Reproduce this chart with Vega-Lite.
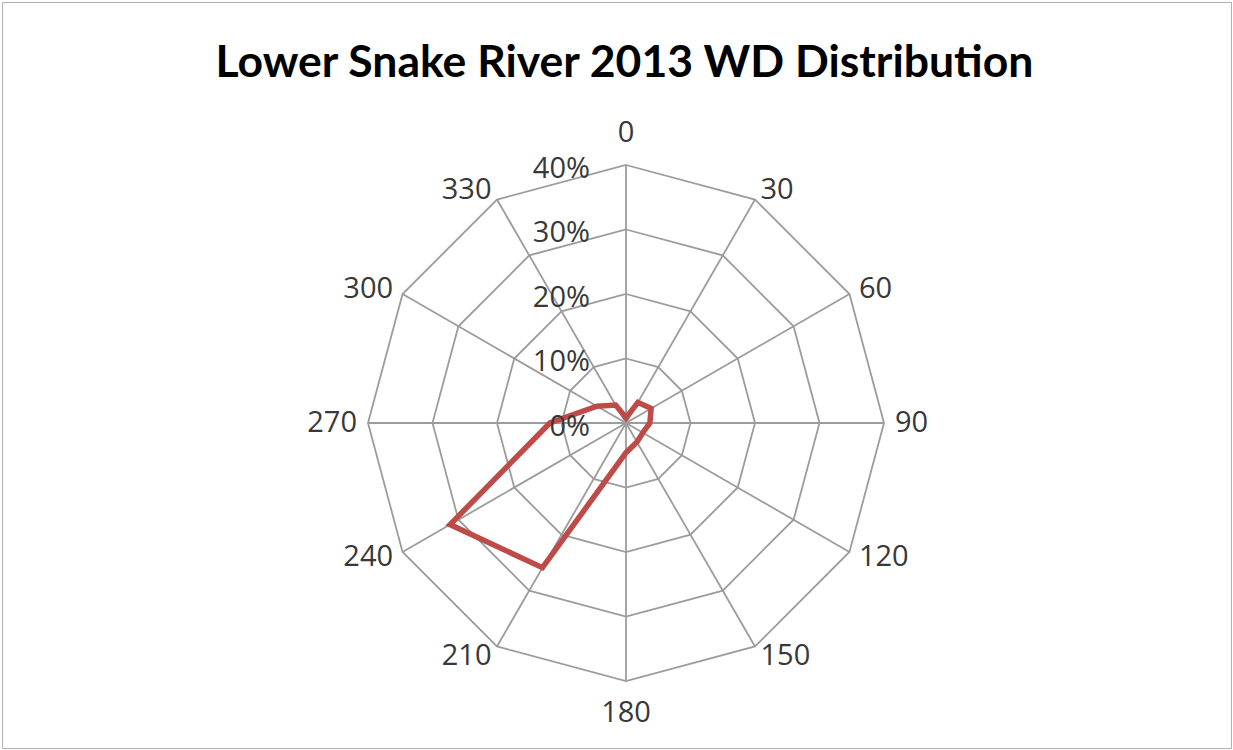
{
  "$schema": "https://vega.github.io/schema/vega-lite/v6.json",
  "width": 1229,
  "height": 746,
  "autosize": {"type": "none"},
  "padding": {"left": 2, "top": 2, "right": 2, "bottom": 2},
  "background": "white",
  "title": {
    "text": "Lower Snake River 2013 WD Distribution",
    "font": "Lato",
    "fontSize": 44.5,
    "fontWeight": "bold",
    "color": "#000000",
    "anchor": "middle",
    "frame": "group",
    "offset": -84,
    "dx": 8
  },
  "config": {
    "view": {"stroke": "#b0b0b0", "strokeWidth": 1}
  },
  "datasets": {
    "grid": [
      {"ring": 0.1, "angle": 0}, {"ring": 0.1, "angle": 30}, {"ring": 0.1, "angle": 60}, {"ring": 0.1, "angle": 90},
      {"ring": 0.1, "angle": 120}, {"ring": 0.1, "angle": 150}, {"ring": 0.1, "angle": 180}, {"ring": 0.1, "angle": 210},
      {"ring": 0.1, "angle": 240}, {"ring": 0.1, "angle": 270}, {"ring": 0.1, "angle": 300}, {"ring": 0.1, "angle": 330},
      {"ring": 0.2, "angle": 0}, {"ring": 0.2, "angle": 30}, {"ring": 0.2, "angle": 60}, {"ring": 0.2, "angle": 90},
      {"ring": 0.2, "angle": 120}, {"ring": 0.2, "angle": 150}, {"ring": 0.2, "angle": 180}, {"ring": 0.2, "angle": 210},
      {"ring": 0.2, "angle": 240}, {"ring": 0.2, "angle": 270}, {"ring": 0.2, "angle": 300}, {"ring": 0.2, "angle": 330},
      {"ring": 0.3, "angle": 0}, {"ring": 0.3, "angle": 30}, {"ring": 0.3, "angle": 60}, {"ring": 0.3, "angle": 90},
      {"ring": 0.3, "angle": 120}, {"ring": 0.3, "angle": 150}, {"ring": 0.3, "angle": 180}, {"ring": 0.3, "angle": 210},
      {"ring": 0.3, "angle": 240}, {"ring": 0.3, "angle": 270}, {"ring": 0.3, "angle": 300}, {"ring": 0.3, "angle": 330},
      {"ring": 0.4, "angle": 0}, {"ring": 0.4, "angle": 30}, {"ring": 0.4, "angle": 60}, {"ring": 0.4, "angle": 90},
      {"ring": 0.4, "angle": 120}, {"ring": 0.4, "angle": 150}, {"ring": 0.4, "angle": 180}, {"ring": 0.4, "angle": 210},
      {"ring": 0.4, "angle": 240}, {"ring": 0.4, "angle": 270}, {"ring": 0.4, "angle": 300}, {"ring": 0.4, "angle": 330}
    ],
    "spokes": [
      {"angle": 0}, {"angle": 30}, {"angle": 60}, {"angle": 90}, {"angle": 120}, {"angle": 150},
      {"angle": 180}, {"angle": 210}, {"angle": 240}, {"angle": 270}, {"angle": 300}, {"angle": 330}
    ],
    "rings": [{"ring": 0}, {"ring": 0.1}, {"ring": 0.2}, {"ring": 0.3}, {"ring": 0.4}],
    "wd": [
      {"angle": 0, "share": 0.008},
      {"angle": 30, "share": 0.037},
      {"angle": 60, "share": 0.045},
      {"angle": 90, "share": 0.037},
      {"angle": 120, "share": 0.030},
      {"angle": 150, "share": 0.034},
      {"angle": 180, "share": 0.046},
      {"angle": 210, "share": 0.259},
      {"angle": 240, "share": 0.315},
      {"angle": 270, "share": 0.118},
      {"angle": 300, "share": 0.052},
      {"angle": 330, "share": 0.032}
    ]
  },
  "layer": [
    {
      "data": {"name": "grid"},
      "transform": [
        {"calculate": "datum.ring * sin(datum.angle * PI / 180)", "as": "x"},
        {"calculate": "datum.ring * cos(datum.angle * PI / 180)", "as": "y"}
      ],
      "mark": {"type": "line", "interpolate": "linear-closed", "stroke": "#9c9c9c", "strokeWidth": 1.8},
      "encoding": {
        "x": {"field": "x", "type": "quantitative", "axis": null, "scale": {"domain": [-0.96744, 0.93798], "nice": false, "zero": false}},
        "y": {"field": "y", "type": "quantitative", "axis": null, "scale": {"domain": [-0.50388, 0.65271], "nice": false, "zero": false}},
        "detail": {"field": "ring", "type": "nominal"},
        "order": {"field": "angle", "type": "quantitative"}
      }
    },
    {
      "data": {"name": "spokes"},
      "transform": [
        {"calculate": "0.4 * sin(datum.angle * PI / 180)", "as": "x"},
        {"calculate": "0.4 * cos(datum.angle * PI / 180)", "as": "y"}
      ],
      "mark": {"type": "rule", "stroke": "#9c9c9c", "strokeWidth": 1.8},
      "encoding": {
        "x": {"field": "x", "type": "quantitative"},
        "y": {"field": "y", "type": "quantitative"},
        "x2": {"datum": 0},
        "y2": {"datum": 0}
      }
    },
    {
      "data": {"name": "wd"},
      "transform": [
        {"calculate": "datum.share * sin(datum.angle * PI / 180)", "as": "x"},
        {"calculate": "datum.share * cos(datum.angle * PI / 180)", "as": "y"}
      ],
      "mark": {"type": "line", "interpolate": "linear-closed", "stroke": "#be4b48", "strokeWidth": 5.5, "strokeJoin": "miter"},
      "encoding": {
        "x": {"field": "x", "type": "quantitative"},
        "y": {"field": "y", "type": "quantitative"},
        "order": {"field": "angle", "type": "quantitative"}
      }
    },
    {
      "data": {"name": "rings"},
      "mark": {"type": "text", "align": "right", "baseline": "middle", "dx": -36, "dy": 4, "font": "Open Sans", "fontSize": 29, "fill": "#383838"},
      "encoding": {
        "x": {"datum": 0},
        "y": {"field": "ring", "type": "quantitative"},
        "text": {"field": "ring", "type": "quantitative", "format": ".0%"}
      }
    },
    {
      "data": {"name": "spokes"},
      "transform": [
        {"filter": "datum.angle > 0 && datum.angle < 180"},
        {"calculate": "0.417 * sin(datum.angle * PI / 180)", "as": "x"},
        {"calculate": "0.417 * cos(datum.angle * PI / 180)", "as": "y"}
      ],
      "mark": {"type": "text", "align": "left", "baseline": "middle", "font": "Open Sans", "fontSize": 29, "fill": "#383838"},
      "encoding": {
        "x": {"field": "x", "type": "quantitative"},
        "y": {"field": "y", "type": "quantitative"},
        "text": {"field": "angle", "type": "quantitative"}
      }
    },
    {
      "data": {"name": "spokes"},
      "transform": [
        {"filter": "datum.angle > 180"},
        {"calculate": "0.417 * sin(datum.angle * PI / 180)", "as": "x"},
        {"calculate": "0.417 * cos(datum.angle * PI / 180)", "as": "y"}
      ],
      "mark": {"type": "text", "align": "right", "baseline": "middle", "font": "Open Sans", "fontSize": 29, "fill": "#383838"},
      "encoding": {
        "x": {"field": "x", "type": "quantitative"},
        "y": {"field": "y", "type": "quantitative"},
        "text": {"field": "angle", "type": "quantitative"}
      }
    },
    {
      "data": {"name": "spokes"},
      "transform": [
        {"filter": "datum.angle == 0 || datum.angle == 180"},
        {"calculate": "0.4496 * sin(datum.angle * PI / 180)", "as": "x"},
        {"calculate": "0.4496 * cos(datum.angle * PI / 180)", "as": "y"}
      ],
      "mark": {"type": "text", "align": "center", "baseline": "middle", "font": "Open Sans", "fontSize": 29, "fill": "#383838"},
      "encoding": {
        "x": {"field": "x", "type": "quantitative"},
        "y": {"field": "y", "type": "quantitative"},
        "text": {"field": "angle", "type": "quantitative"}
      }
    }
  ]
}
